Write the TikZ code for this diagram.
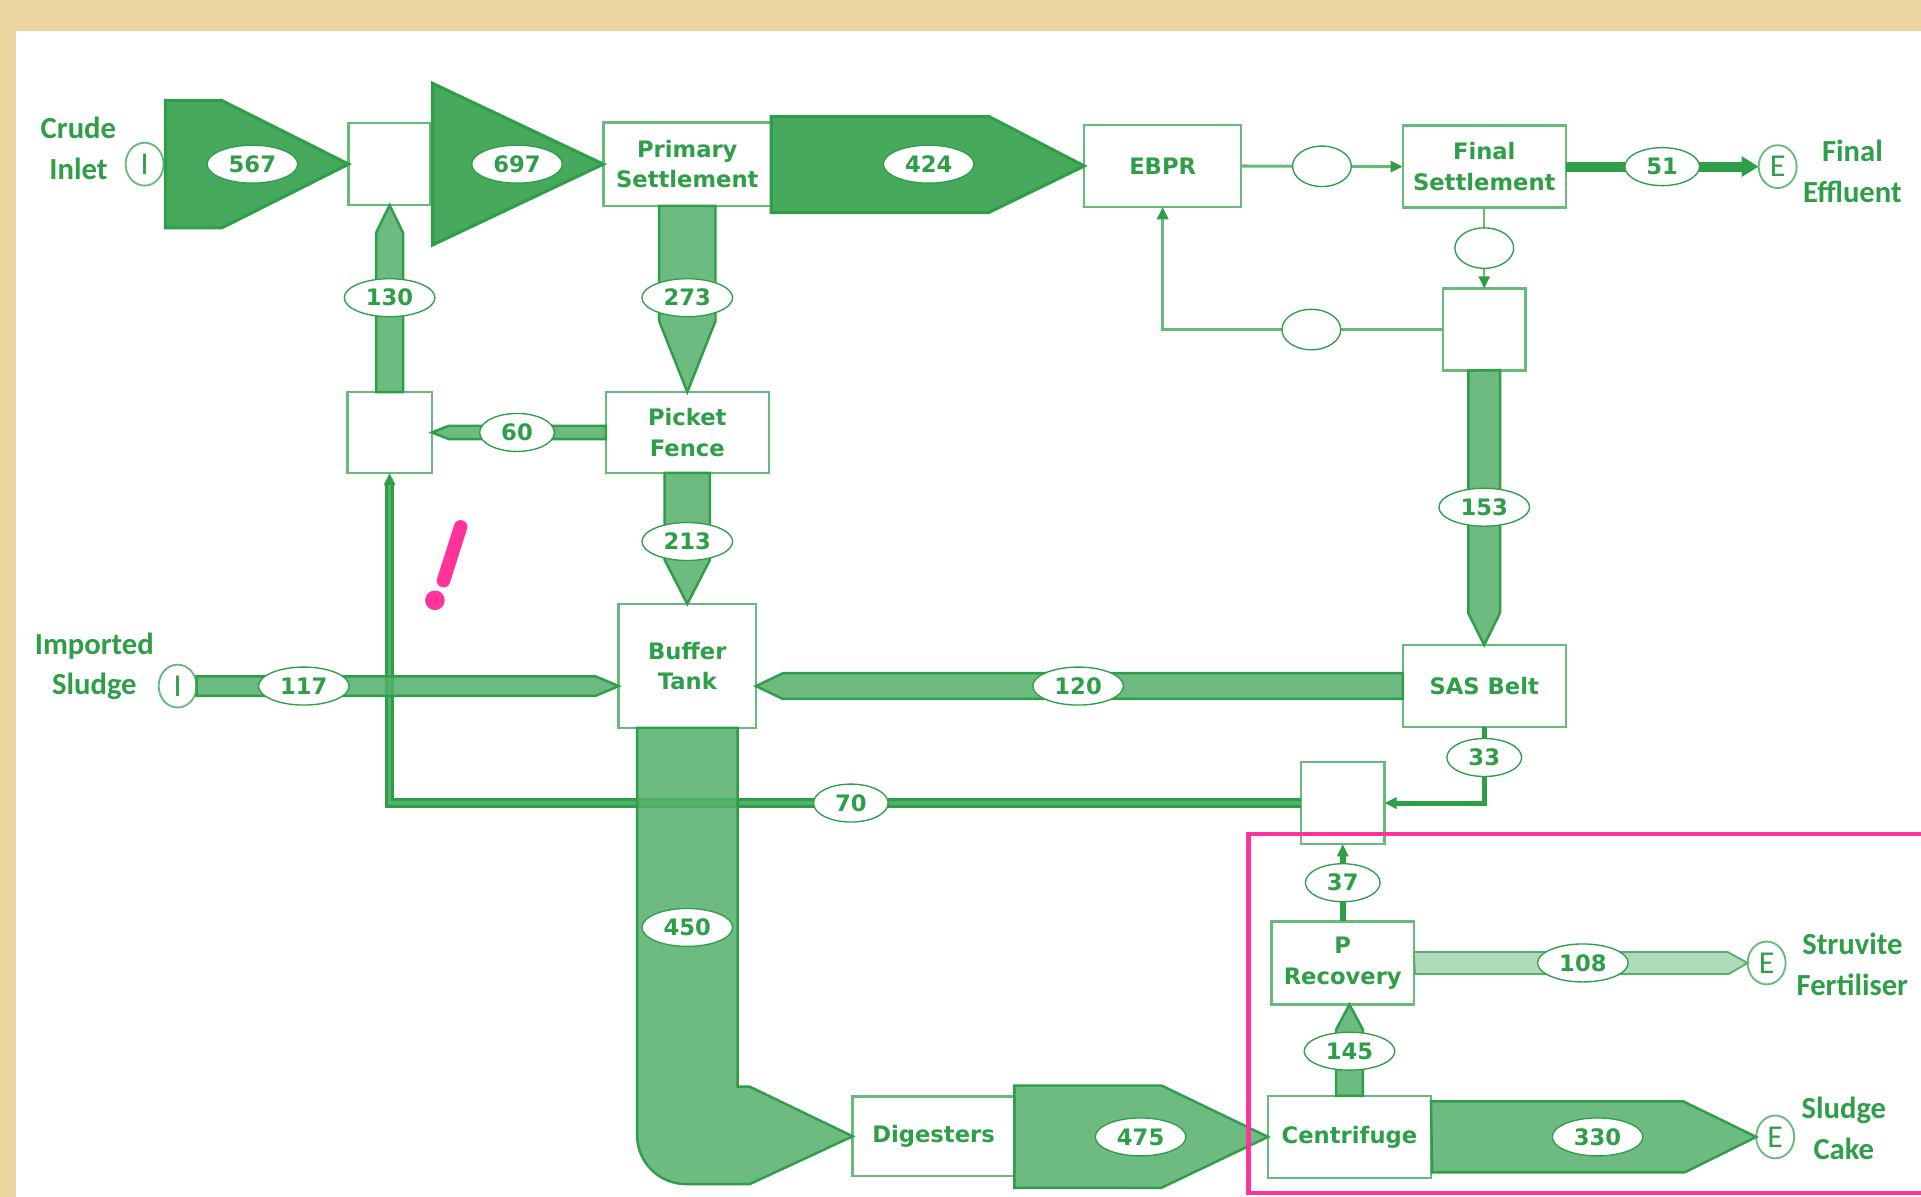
\documentclass[tikz,border=0pt]{standalone}
\usepackage{fontspec}
\setmainfont{DejaVu Sans}
\newfontfamily\labelfont{Carlito}
\usepackage{tikz}
\usetikzlibrary{shapes.geometric}
\usetikzlibrary{arrows.meta}

\definecolor{sewgreen}{RGB}{46,158,72}
\definecolor{boxgreen}{RGB}{104,186,122}
\definecolor{flowdark}{RGB}{70,169,91}
\definecolor{flowmid}{RGB}{84,176,106}
\definecolor{flowpale}{RGB}{176,219,186}
\definecolor{paper}{RGB}{236,213,160}
\definecolor{marker}{RGB}{255,51,153}

\newcommand{\unitfont}{\bfseries\fontsize{18.5}{25}\selectfont}
\newcommand{\tagfont}{\labelfont\bfseries\fontsize{25}{33}\selectfont}

\begin{document}
\begin{tikzpicture}[x=1pt,y=-1pt,>={Triangle[length=10pt,width=9pt,color=sewgreen]},
	unit/.style={rectangle,draw=boxgreen,line width=2pt,fill=white,text=sewgreen,
		font=\unitfont,align=center,inner sep=0pt,outer sep=0pt},
	junction/.style={unit,minimum width=67pt,minimum height=67pt},
	val/.style={ellipse,draw=sewgreen,line width=1.1pt,fill=white,text=sewgreen,
		font=\unitfont,inner sep=0pt,minimum width=74pt,minimum height=31pt},
	short val/.style={val,minimum width=61pt},
	blank val/.style={val,minimum width=48pt,minimum height=33pt},
	terminal/.style={ellipse,draw=boxgreen,line width=1.5pt,fill=white,text=sewgreen,
		font=\labelfont\fontsize{26}{26}\selectfont,inner sep=0pt,outer sep=0pt,
		minimum width=31pt,minimum height=35pt},
	tag/.style={text=sewgreen,font=\tagfont,align=center},
	bigflow/.style={fill=flowdark,draw=sewgreen,line width=2.5pt},
	flow/.style={fill=flowmid,fill opacity=0.85,draw=sewgreen,line width=2pt},
	paleflow/.style={fill=flowpale,draw=flowmid,line width=1.5pt},
	sideline/.style={draw=boxgreen,line width=2.5pt},
	feed/.style={draw=sewgreen,line width=4pt}]

	\useasboundingbox (0,0) rectangle (1568,977);
	\fill[paper] (0,0) rectangle (1568,977);
	\fill[white] (13,25) rectangle (1568,977);

	% units
	\node[junction] (j1) at (318,134) {};
	\node[unit,minimum width=137pt,minimum height=68pt] (ps) at (561,134) {Primary\\Settlement};
	\node[unit,minimum width=128pt,minimum height=67pt] (ebpr) at (949,135.5) {EBPR};
	\node[unit,minimum width=133pt,minimum height=67pt] (fs) at (1211.5,136) {Final\\Settlement};
	\node[junction] (split) at (1211.5,269) {};
	\node[junction,minimum width=69pt,minimum height=66pt] (j2) at (318,353) {};
	\node[unit,minimum width=133pt,minimum height=66pt] (pf) at (561,353) {Picket\\Fence};
	\node[unit,minimum width=112pt,minimum height=101pt] (bt) at (561,543.5) {Buffer\\Tank};
	\node[unit,minimum width=133pt,minimum height=67pt] (sas) at (1211.5,560) {SAS Belt};
	\node[junction,minimum width=68pt] (j3) at (1096,655.5) {};
	\node[unit,minimum width=116pt,minimum height=68pt] (prec) at (1096,786) {P\\Recovery};
	\node[unit,minimum width=132pt,minimum height=65pt] (dig) at (762,927.5) {Digesters};
	\node[unit,minimum width=133pt,minimum height=67pt] (cent) at (1101.5,928) {Centrifuge};

	% inlets and exits
	\node[terminal] (in1) at (118,134) {I};
	\node[terminal] (in2) at (145,560) {I};
	\node[terminal] (out1) at (1451,136) {E};
	\node[terminal] (out2) at (1442,786) {E};
	\node[terminal] (out3) at (1449,928) {E};
	\node[tag] (crude) at (64,121) {Crude\\Inlet};
	\node[tag] (imported) at (77,544) {Imported\\Sludge};
	\node[tag] (effluent) at (1512,140) {Final\\Effluent};
	\node[tag] (struvite) at (1512,787) {Struvite\\Fertiliser};
	\node[tag] (cake) at (1505,921) {Sludge\\Cake};

	% line flows
	\draw[sideline,->] (ebpr.east) -- node[blank val] (q1) {} (fs.west);
	\draw[sideline,line width=2pt,->] (fs.south) -- node[blank val] (q2) {} (split.north);
	\draw[sideline,->] (split.west) -| node[blank val,pos=0.235] (q3) {} (ebpr.south);
	\draw[feed,->] (sas.south) |- node[short val,pos=0.2] (v33) {33} (j3.east);
	\draw[feed,line width=5pt,->] (prec.north) -- node[short val] (v37) {37} (j3.south);
	\draw[sewgreen,double=flowmid,double distance=3pt,line width=2.5pt,->]
		(j3.west) -| node[short val,pos=0.247] (v70) {70} (j2.south);
	\draw[sewgreen,line width=8pt,-{Triangle[length=14pt,width=16pt]}]
		(fs.east) -- node[short val] (v51) {51} (out1.west);

	% main flows
	\draw[bigflow] (j1.west) -- ++(-103.5,-52) -- ++(-46,0) -- ++(0,104) -- ++(46,0) -- cycle;
	\draw[bigflow] (ps.west) -- ++(-139.5,-66) -- ++(0,132) -- cycle;
	\draw[bigflow] (ps.east) ++(0,-39) -- ++(177.5,0) -- (ebpr.west) -- ++(-78,38) -- ++(-177.5,0) -- cycle;
	\draw[flow] (ps.south) ++(-23,0) -- ++(0,94) -- (pf.north) -- ++(23,-58) -- ++(0,-94) -- cycle;
	\draw[flow] (pf.south) ++(-18.5,0) -- ++(0,71) -- (bt.north) -- ++(18.5,-36) -- ++(0,-71) -- cycle;
	\draw[flow] (j2.north) ++(-11,0) -- ++(0,-130) -- (j1.south) -- ++(11,22.5) -- ++(0,130) -- cycle;
	\draw[flow] (pf.west) ++(0,-5.5) -- ++(-128,0) -- (j2.east) -- ++(14,5.5) -- ++(128,0) -- cycle;
	\draw[flow] (split.south) ++(-13,0) -- ++(0,198) -- (sas.north) -- ++(13,-26.5) -- ++(0,-198) -- cycle;
	\draw[flow] (in2.east) ++(0,-8) -- ++(325.5,0) -- (in2.east -| bt.west) -- ++(-19,8) -- ++(-325.5,0) -- cycle;
	\draw[flow] (sas.west) ++(0,-10.5) -- ++(-506,0) -- (sas.west -| bt.east) -- ++(22,10.5) -- ++(506,0) -- cycle;
	\draw[flow] (bt.south) ++(41,0) -- ++(0,293) -- ++(10,0) -- (dig.west) -- ++(-84,39) -- ++(-52,0)
		arc[start angle=90,end angle=180,radius=40] -- ++(0,-332.5) -- cycle;
	\draw[flow] (dig.east) ++(0,-41.5) -- ++(120,0) -- (cent.west) -- ++(-87,41.5) -- ++(-120,0) -- cycle;
	\draw[flow] (cent.east) ++(0,-29) -- ++(206,0) -- (out3.west) -- ++(-58.5,29) -- ++(-206,0) -- cycle;
	\draw[flow] (cent.north) ++(-11,0) -- ++(0,-54) -- (cent.north |- prec.south) -- ++(11,20.5) -- ++(0,54) -- cycle;
	\draw[paleflow] (prec.east) ++(0,-9) -- ++(256,0) -- (out2.west) -- ++(-15.5,9) -- ++(-256,0) -- cycle;

	% flow values
	\node[val] (v567) at (206,134) {567};
	\node[val] (v697) at (422,134) {697};
	\node[val] (v424) at (758,134) {424};
	\node[val] (v130) at (318,243) {130};
	\node[val] (v273) at (561,243) {273};
	\node[short val] (v60) at (422,353) {60};
	\node[val] (v213) at (561,442) {213};
	\node[val] (v153) at (1211.5,414) {153};
	\node[val] (v117) at (248,560) {117};
	\node[val] (v120) at (880,560) {120};
	\node[val] (v450) at (561,757) {450};
	\node[val] (v475) at (931,928) {475};
	\node[val] (v145) at (1101.5,858) {145};
	\node[val] (v108) at (1292,786) {108};
	\node[val] (v330) at (1304,928) {330};

	% pen marks
	\draw[marker,line width=3.5pt] (1019,681) rectangle (1580,974);
	\draw[marker,line width=11pt,line cap=round] (376,430) -- (362,474);
	\fill[marker] (355,490) circle (8);
\end{tikzpicture}
\end{document}
